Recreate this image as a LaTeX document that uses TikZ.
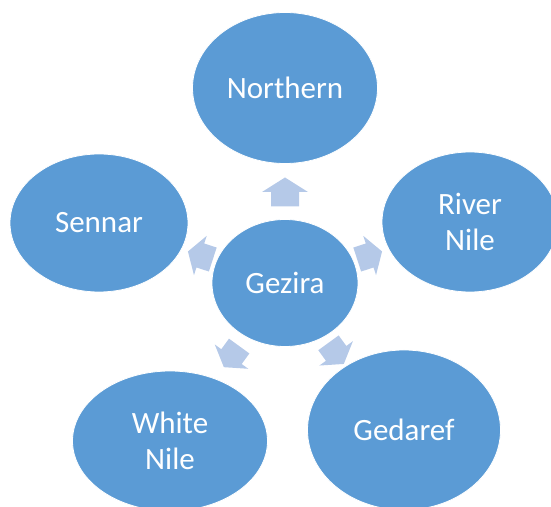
\documentclass[tikz,border=0pt]{standalone}
\usepackage{fontspec}
\setmainfont{Carlito}
\usetikzlibrary{shapes.geometric,calc}
\definecolor{nodeblue}{HTML}{5B9BD5}
\definecolor{arrowblue}{HTML}{B5C9E8}
\tikzset{
  region/.style={ellipse, fill=nodeblue, draw=white, line width=0.8pt, inner sep=0pt,
    text=white, align=center, font=\fontsize{31}{36}\selectfont},
  blockarrow/.style={fill=arrowblue}
}
\begin{document}
\begin{tikzpicture}[x=1pt,y=1pt]
\useasboundingbox (0,0) rectangle (551,506);
\clip (0,0) rectangle (551,506);
\node[region, minimum width=185pt, minimum height=151pt] (north) at (285,418) {Northern};
\node[region, minimum width=146pt, minimum height=127pt] (gz) at (285,223) {Gezira};
\node[region, minimum width=176pt, minimum height=140pt] (river) at (470,284) {River\\Nile};
\node[region, minimum width=178pt, minimum height=138pt] (sennar) at (99,283) {Sennar};
\node[region, minimum width=195pt, minimum height=140pt] (white) at (170,65) {White\\Nile};
\node[region, minimum width=193pt, minimum height=160pt] (gedaref) at (404,76) {Gedaref};
\foreach \ang/\rad/\sc in {90/91/1, 18/89/0.9, 162/89/0.9, -54/87/0.9, -126/91/0.9}{
  \begin{scope}[shift={($(gz.center)+(\ang:\rad)$)}, rotate=\ang, scale=\sc]
    \fill[blockarrow] (-14.5,-14) -- (0,-14) -- (0,-23) -- (14.5,0) -- (0,23) -- (0,14) -- (-14.5,14) -- cycle;
  \end{scope}
}
\end{tikzpicture}
\end{document}
